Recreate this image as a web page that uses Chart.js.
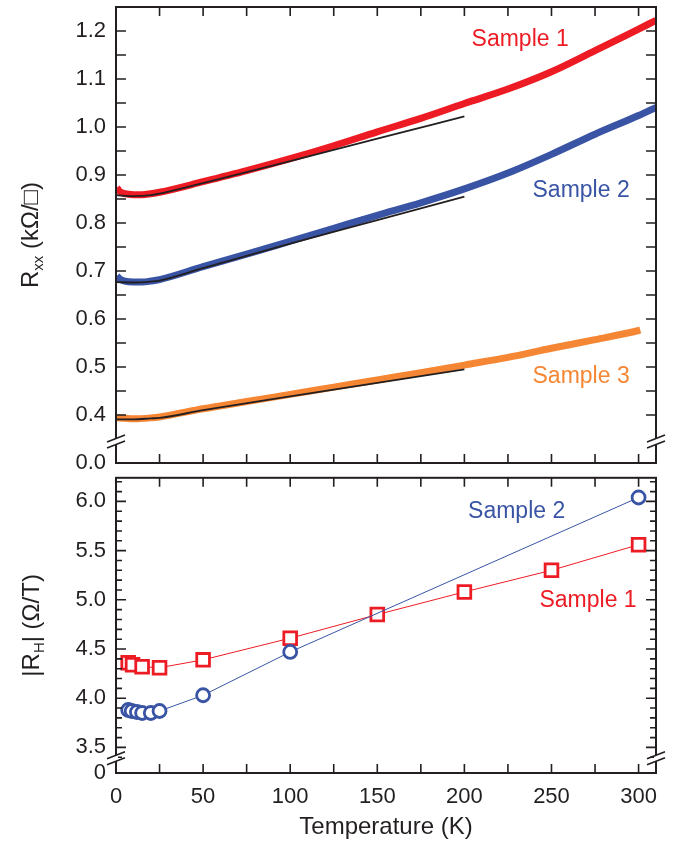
<!DOCTYPE html>
<html lang="en">
<head>
<meta charset="UTF-8">
<title>Rxx and Hall coefficient vs temperature</title>
<script src="https://cdn.jsdelivr.net/npm/chart.js"></script>
<style>
  body { margin: 0; background: #fff; }
  #wrap { position: relative; width: 676px; height: 843px; }
  canvas { position: absolute; left: 0; }
  #rxxChart { top: 0; }
  #rhChart { top: 466px; }
</style>
</head>
<body>
<div id="wrap">
  <canvas id="rxxChart" width="676" height="490"></canvas>
  <canvas id="rhChart" width="676" height="377"></canvas>
</div>
<script>
// --- top panel: Rxx (kOhm/sq) vs T ---
const tempS1 = [0.5, 2, 5, 10, 15, 20, 25, 50, 75, 100, 125, 150, 175, 200, 225, 250, 275, 300, 310];
const rxxS1 = [0.874, 0.866, 0.861, 0.859, 0.859, 0.861, 0.864, 0.886, 0.909, 0.934, 0.961, 0.990, 1.018, 1.049, 1.079, 1.115, 1.159, 1.204, 1.222];
const tempS2 = [0.5, 2, 5, 10, 15, 20, 25, 50, 75, 100, 125, 150, 175, 200, 225, 250, 275, 300, 310];
const rxxS2 = [0.690, 0.684, 0.679, 0.677, 0.677, 0.679, 0.682, 0.709, 0.735, 0.762, 0.789, 0.816, 0.842, 0.871, 0.904, 0.943, 0.985, 1.024, 1.041];
const tempS3 = [0.5, 5, 10, 20, 25, 50, 75, 100, 125, 150, 175, 200, 225, 250, 275, 300, 301];
const rxxS3 = [0.394, 0.393, 0.392, 0.394, 0.396, 0.413, 0.428, 0.443, 0.458, 0.473, 0.488, 0.504, 0.520, 0.539, 0.557, 0.576, 0.577];
const fitTemp = [0, 10, 20, 25, 50, 100, 150, 200];
const fitS1 = [0.858, 0.856, 0.858, 0.861, 0.883, 0.929, 0.976, 1.022];
const fitS2 = [0.677, 0.676, 0.678, 0.680, 0.706, 0.757, 0.806, 0.855];
const fitS3 = [0.391, 0.391, 0.393, 0.394, 0.410, 0.439, 0.467, 0.495];

// --- bottom panel: |RH| (Ohm/T) vs T ---
const hallTempS1 = [7, 9.5, 15, 25, 50, 100, 150, 200, 250, 300];
const hallS1 = [4.36, 4.34, 4.32, 4.31, 4.39, 4.61, 4.85, 5.08, 5.30, 5.56];
const hallTempS2 = [7, 9, 12, 15, 20, 25, 50, 100, 300];
const hallS2 = [3.88, 3.87, 3.86, 3.85, 3.85, 3.87, 4.03, 4.47, 6.04];

// axis ticks (first value of each y list sits at the axis break and is shown as zero)
const xTickLabels = [0, 50, 100, 150, 200, 250, 300];
const rxxTickValues = [0.3, 0.4, 0.5, 0.6, 0.7, 0.8, 0.9, 1.0, 1.1, 1.2];
const rxxTickLabels = ['0.0', '0.4', '0.5', '0.6', '0.7', '0.8', '0.9', '1.0', '1.1', '1.2'];
const rhTickValues = [3.24, 3.5, 4.0, 4.5, 5.0, 5.5, 6.0];
const rhTickLabels = ['0', '3.5', '4.0', '4.5', '5.0', '5.5', '6.0'];

const red = '#ed1c24';
const blue = '#3954a4';
const orange = '#f58634';
const ink = '#231f20';
const family = '"Liberation Sans", Arial, Helvetica, sans-serif';

Chart.defaults.font.family = family;
Chart.defaults.color = ink;

const pts = (xs, ys) => xs.map((x, i) => ({ x, y: ys[i] }));

function range(a, b, step) {
  const out = [];
  for (let v = a; v <= b + 1e-9; v += step) out.push(Math.round(v * 1000) / 1000);
  return out;
}

// frame, inward ticks, axis breaks, y titles and sample labels
const decor = {
  id: 'decor',
  afterDraw(chart, args, o) {
    const { ctx, chartArea: a, scales: { x, y } } = chart;
    ctx.save();
    ctx.strokeStyle = ink;
    ctx.lineWidth = 2;
    ctx.strokeRect(a.left, a.top, a.width, a.height);

    ctx.lineWidth = 1.6;
    ctx.beginPath();
    o.xTicks.forEach(v => {
      const px = x.getPixelForValue(v);
      ctx.moveTo(px, a.bottom); ctx.lineTo(px, a.bottom - 9);
      ctx.moveTo(px, a.top); ctx.lineTo(px, a.top + 9);
    });
    o.yTicks.forEach(v => {
      const py = y.getPixelForValue(v);
      const len = o.isMajor(v) ? 10 : 6;
      ctx.moveTo(a.left, py); ctx.lineTo(a.left + len, py);
      ctx.moveTo(a.right, py); ctx.lineTo(a.right - len, py);
    });
    ctx.stroke();

    // axis break marks
    const yb = y.getPixelForValue(o.breakAt);
    [a.left, a.right].forEach(ax => {
      ctx.fillStyle = '#fff';
      ctx.fillRect(ax - 2, yb - 3, 4, 6);
      ctx.beginPath();
      [-3, 3].forEach(d => {
        ctx.moveTo(ax - 9, yb + d + 3.5);
        ctx.lineTo(ax + 9, yb + d - 3.5);
      });
      ctx.stroke();
    });

    // y title with subscript
    const cy = (a.top + a.bottom) / 2;
    ctx.translate(o.titleX, cy);
    ctx.rotate(-Math.PI / 2);
    ctx.fillStyle = ink;
    ctx.textBaseline = 'alphabetic';
    let total = 0;
    o.title.forEach(p => {
      ctx.font = (p.sub ? 15 : 24) + 'px ' + family;
      total += ctx.measureText(p.text).width;
    });
    let tx = -total / 2;
    o.title.forEach(p => {
      ctx.font = (p.sub ? 15 : 24) + 'px ' + family;
      ctx.fillText(p.text, tx, p.sub ? 5 : 0);
      tx += ctx.measureText(p.text).width;
    });
    ctx.restore();

    // sample labels
    ctx.save();
    ctx.font = '23px ' + family;
    ctx.textAlign = 'center';
    ctx.textBaseline = 'middle';
    o.notes.forEach(n => {
      ctx.fillStyle = n.color;
      ctx.fillText(n.text, x.getPixelForValue(n.x), y.getPixelForValue(n.y));
    });
    ctx.restore();
  }
};

const band = (label, xs, ys, color) => ({
  label, data: pts(xs, ys), borderColor: color, borderWidth: 7,
  pointRadius: 0, cubicInterpolationMode: 'monotone', order: 1
});
const fit = (label, ys) => ({
  label, data: pts(fitTemp, ys), borderColor: ink, borderWidth: 1.8,
  pointRadius: 0, cubicInterpolationMode: 'monotone', order: 0
});

// y axes: fixed width, no automatic label padding so the layout padding sets the plot box
const fixY = s => { s.width = 116; s.paddingTop = 0; s.paddingBottom = 0; };

new Chart(document.getElementById('rxxChart'), {
  type: 'line',
  data: {
    datasets: [
      band('Sample 1', tempS1, rxxS1, red),
      band('Sample 2', tempS2, rxxS2, blue),
      band('Sample 3', tempS3, rxxS3, orange),
      fit('Fit 1', fitS1),
      fit('Fit 2', fitS2),
      fit('Fit 3', fitS3)
    ]
  },
  options: {
    responsive: false,
    animation: false,
    layout: { padding: { top: 7, right: 20, bottom: 27, left: 0 } },
    plugins: {
      legend: { display: false },
      tooltip: { enabled: false },
      decor: {
        xTicks: range(0, 300, 25),
        yTicks: range(0.4, 1.2, 0.05),
        isMajor: () => true,
        breakAt: 0.345,
        titleX: 38,
        title: [{ text: 'R' }, { text: 'xx', sub: true }, { text: ' (kΩ/□)' }],
        notes: [
          { text: 'Sample 1', x: 232, y: 1.181, color: red },
          { text: 'Sample 2', x: 267, y: 0.867, color: blue },
          { text: 'Sample 3', x: 267, y: 0.479, color: orange }
        ]
      }
    },
    scales: {
      x: { type: 'linear', min: 0, max: 310, display: false },
      y: {
        type: 'linear', min: 0.3, max: 1.25,
        grid: { display: false, drawTicks: false },
        border: { display: false },
        afterBuildTicks: s => { s.ticks = rxxTickValues.map(v => ({ value: v })); },
        afterFit: fixY,
        ticks: {
          font: { size: 22 }, padding: 10, autoSkip: false,
          callback: (v, i) => rxxTickLabels[i]
        }
      }
    }
  },
  plugins: [decor]
});

new Chart(document.getElementById('rhChart'), {
  type: 'line',
  data: {
    datasets: [
      {
        label: 'Sample 2', data: pts(hallTempS2, hallS2),
        borderColor: blue, borderWidth: 1,
        pointStyle: 'circle', pointRadius: 6.5, pointBorderWidth: 2.8,
        pointBorderColor: blue, pointBackgroundColor: '#fff'
      },
      {
        label: 'Sample 1', data: pts(hallTempS1, hallS1),
        borderColor: red, borderWidth: 1,
        pointStyle: 'rect', pointRadius: 9, pointBorderWidth: 2.8,
        pointBorderColor: red, pointBackgroundColor: '#fff'
      }
    ]
  },
  options: {
    responsive: false,
    animation: false,
    layout: { padding: { top: 7, right: 20, bottom: 0, left: 0 } },
    plugins: {
      legend: { display: false },
      tooltip: { enabled: false },
      decor: {
        xTicks: range(0, 300, 25),
        yTicks: range(3.4, 6.2, 0.1),
        isMajor: v => Math.abs(v * 2 - Math.round(v * 2)) < 1e-6,
        breakAt: 3.39,
        titleX: 39,
        title: [{ text: '|R' }, { text: 'H', sub: true }, { text: '| (Ω/T)' }],
        notes: [
          { text: 'Sample 2', x: 230, y: 5.90, color: blue },
          { text: 'Sample 1', x: 271, y: 4.99, color: red }
        ]
      }
    },
    scales: {
      x: {
        type: 'linear', min: 0, max: 310,
        grid: { display: false, drawTicks: false },
        border: { display: false },
        afterBuildTicks: s => { s.ticks = xTickLabels.map(v => ({ value: v })); },
        afterFit: s => { s.height = 70; s.paddingLeft = 0; s.paddingRight = 0; },
        ticks: { font: { size: 22 }, padding: 11, autoSkip: false, maxRotation: 0 },
        title: {
          display: true, text: 'Temperature (K)',
          font: { size: 24 }, padding: { top: 0, bottom: 1 }
        }
      },
      y: {
        type: 'linear', min: 3.24, max: 6.24,
        grid: { display: false, drawTicks: false },
        border: { display: false },
        afterBuildTicks: s => { s.ticks = rhTickValues.map(v => ({ value: v })); },
        afterFit: fixY,
        ticks: {
          font: { size: 22 }, padding: 10, autoSkip: false,
          callback: (v, i) => rhTickLabels[i]
        }
      }
    }
  },
  plugins: [decor]
});
</script>
</body>
</html>
